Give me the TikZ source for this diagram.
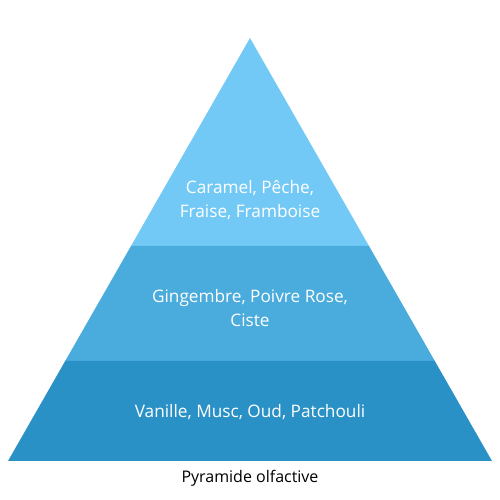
\documentclass[tikz,border=0pt]{standalone}
\usepackage{fontspec}
\setmainfont{Open Sans}
\usepackage{xcolor}
\definecolor{tier-top}{HTML}{73C9F6}
\definecolor{tier-mid}{HTML}{4AABDD}
\definecolor{tier-base}{HTML}{2A91C6}
\usetikzlibrary{calc}

\begin{document}
\begin{tikzpicture}[every node/.style={font=\fontsize{9.8}{14}\selectfont, align=center},
        note/.style={text=white}]
      \useasboundingbox (0,0) rectangle (10,10);
      \coordinate (apex) at (5,9.24);
      \coordinate (BL) at (0.16,0.78);
      \coordinate (BR) at (9.84,0.78);
      \coordinate (L1) at ($(apex)!0.4917!(BL)$);
      \coordinate (R1) at ($(apex)!0.4917!(BR)$);
      \coordinate (L2) at ($(apex)!0.7636!(BL)$);
      \coordinate (R2) at ($(apex)!0.7636!(BR)$);
      \fill[tier-top] (apex) -- (L1) -- (R1) -- cycle;
      \fill[tier-mid] (L1) -- (L2) -- (R2) -- (R1) -- cycle;
      \fill[tier-base] (L2) -- (BL) -- (BR) -- (R2) -- cycle;
      \node[note] (head) at (5,6.0) {Caramel, Pêche,\\Fraise, Framboise};
      \node[note] (heart) at (5,3.84) {Gingembre, Poivre Rose,\\Ciste};
      \node[note] (fond) at (5,1.76) {Vanille, Musc, Oud, Patchouli};
      \node[font=\fontsize{9.1}{11}\selectfont] (caption) at (5,0.44) {Pyramide olfactive};
    \end{tikzpicture}
\end{document}
